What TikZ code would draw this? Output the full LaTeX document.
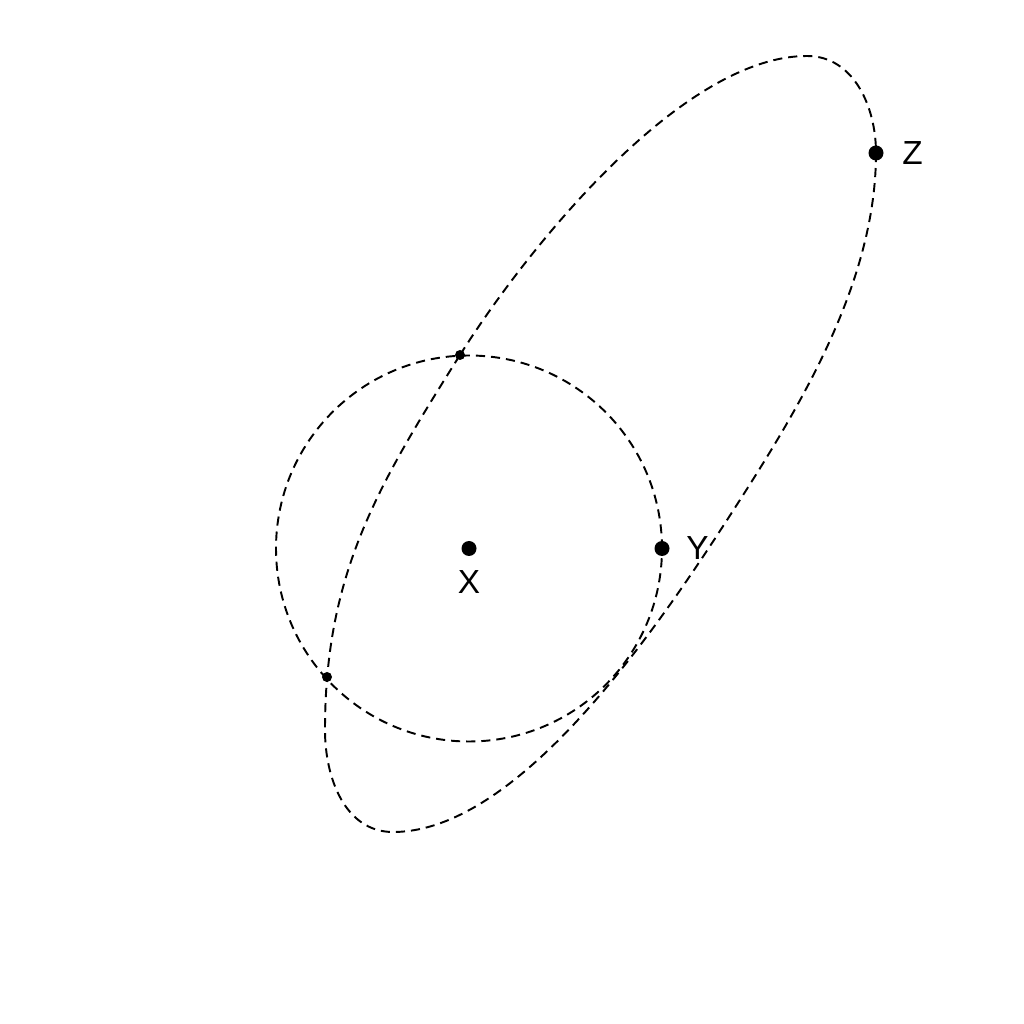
\documentclass[tikz,border=0pt]{standalone}
\usepackage{fontspec}
\setmainfont{Liberation Sans}
\usetikzlibrary{positioning}

\tikzset{
  bigdot/.style={circle, fill=black, inner sep=0pt, minimum size=0.15cm},
  smalldot/.style={circle, fill=black, inner sep=0pt, minimum size=0.1cm},
  orbit/.style={line width=0.55pt, dash pattern=on 2.6pt off 1.7pt},
  ptlabel/.style={font=\fontsize{9.5}{10}\selectfont, inner sep=1pt}
}

\begin{document}
\begin{tikzpicture}
\useasboundingbox (0,0) rectangle (10.24,10.24);

% Points
\node[bigdot] (X) at (4.69,4.755) {};
\node[bigdot] (Y) at (6.62,4.755) {};
\node[bigdot] (Z) at (8.76,8.71) {};
\node[smalldot] (p1) at (4.60,6.69) {};
\node[smalldot] (p2) at (3.27,3.47) {};

% Turning points of the loop
\coordinate (top) at (8.07,9.68);
\coordinate (side) at (7.38,5.21);
\coordinate (bottom) at (3.93,1.92);
\coordinate (left) at (3.25,2.94);

% Circle round X and the long loop
\draw[orbit] (X.center) circle (1.93);
\draw[orbit] (p1.center) to[out=57.8, in=180, looseness=0.7] (top)
  to[out=0, in=90] (Z.center)
  to[out=-90, in=57.3, looseness=0.85] (side)
  to[out=237.3, in=0, looseness=0.7] (bottom)
  to[out=180, in=-90] (left)
  to[out=90, in=237.8] (p1.center);

% Labels
\node[ptlabel, below=0.1cm of X] (xlabel) {X};
\node[ptlabel, right=0.12cm of Y] (ylabel) {Y};
\node[ptlabel, right=0.14cm of Z] (zlabel) {Z};
\end{tikzpicture}
\end{document}
